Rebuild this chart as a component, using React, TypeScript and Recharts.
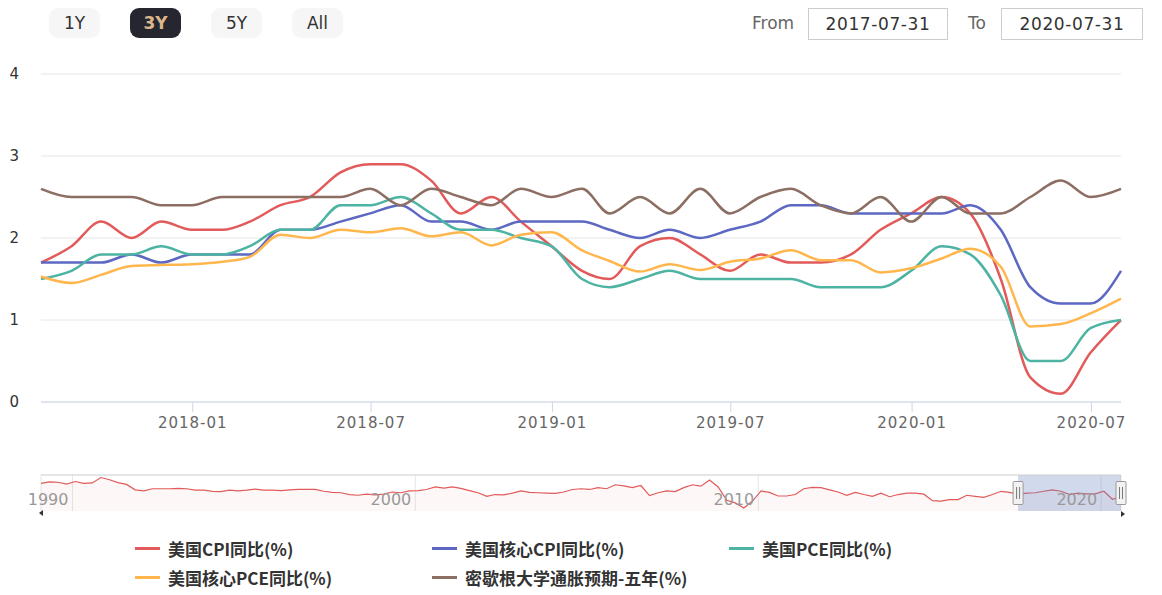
import React from 'react';
import {
  LineChart, Line, XAxis, YAxis, CartesianGrid, ComposedChart, Area,
  ReferenceArea, ReferenceLine,
} from 'recharts';

// ---------- data ----------
const months = [
  '2017-07', '2017-08', '2017-09', '2017-10', '2017-11', '2017-12',
  '2018-01', '2018-02', '2018-03', '2018-04', '2018-05', '2018-06',
  '2018-07', '2018-08', '2018-09', '2018-10', '2018-11', '2018-12',
  '2019-01', '2019-02', '2019-03', '2019-04', '2019-05', '2019-06',
  '2019-07', '2019-08', '2019-09', '2019-10', '2019-11', '2019-12',
  '2020-01', '2020-02', '2020-03', '2020-04', '2020-05', '2020-06',
  '2020-07',
];
const cpiYoY = [
  1.7, 1.9, 2.2, 2.0, 2.2, 2.1,
  2.1, 2.2, 2.4, 2.5, 2.8, 2.9,
  2.9, 2.7, 2.3, 2.5, 2.2, 1.9,
  1.6, 1.5, 1.9, 2.0, 1.8, 1.6,
  1.8, 1.7, 1.7, 1.8, 2.1, 2.3,
  2.5, 2.3, 1.5, 0.3, 0.1, 0.6,
  1.0,
];
const coreCpiYoY = [
  1.7, 1.7, 1.7, 1.8, 1.7, 1.8,
  1.8, 1.8, 2.1, 2.1, 2.2, 2.3,
  2.4, 2.2, 2.2, 2.1, 2.2, 2.2,
  2.2, 2.1, 2.0, 2.1, 2.0, 2.1,
  2.2, 2.4, 2.4, 2.3, 2.3, 2.3,
  2.3, 2.4, 2.1, 1.4, 1.2, 1.2,
  1.6,
];
const pceYoY = [
  1.5, 1.6, 1.8, 1.8, 1.9, 1.8,
  1.8, 1.9, 2.1, 2.1, 2.4, 2.4,
  2.5, 2.3, 2.1, 2.1, 2.0, 1.9,
  1.5, 1.4, 1.5, 1.6, 1.5, 1.5,
  1.5, 1.5, 1.4, 1.4, 1.4, 1.6,
  1.9, 1.8, 1.3, 0.5, 0.5, 0.9,
  1.0,
];
const corePceYoY = [
  1.53, 1.45, 1.55, 1.66, 1.67, 1.68,
  1.71, 1.77, 2.04, 2.0, 2.1, 2.07,
  2.12, 2.02, 2.07, 1.91, 2.04, 2.07,
  1.85, 1.72, 1.59, 1.68, 1.61, 1.71,
  1.75, 1.85, 1.73, 1.73, 1.58, 1.63,
  1.75, 1.87, 1.65, 0.92, 0.95, 1.08,
  1.26,
];
const michigan5Y = [
  2.6, 2.5, 2.5, 2.5, 2.4, 2.4,
  2.5, 2.5, 2.5, 2.5, 2.5, 2.6,
  2.4, 2.6, 2.5, 2.4, 2.6, 2.5,
  2.6, 2.3, 2.5, 2.3, 2.6, 2.3,
  2.5, 2.6, 2.4, 2.3, 2.5, 2.2,
  2.5, 2.3, 2.3, 2.5, 2.7, 2.5,
  2.6,
];

const seriesKeys = ['cpi', 'core', 'pce', 'corePce', 'mich'];
const seriesNames = ['美国CPI同比(%)', '美国核心CPI同比(%)', '美国PCE同比(%)', '美国核心PCE同比(%)', '密歇根大学通胀预期-五年(%)'];
const seriesColors = ['#e25a5a', '#5c68c2', '#4db3a2', '#ffb74d', '#8d6e63'];

const xTickLabels = ['2018-01', '2018-07', '2019-01', '2019-07', '2020-01', '2020-07'];
const yTicks = [0, 1, 2, 3, 4];

// navigator (US CPI YoY, quarterly from 1989-01)
const navStart = '1989-01';
const navCpi = [
  4.7, 5.1, 5.0, 4.5,
  5.2, 4.7, 4.8, 6.3,
  5.7, 4.9, 4.4, 2.9,
  2.6, 3.2, 3.2, 3.2,
  3.3, 3.2, 2.8, 2.8,
  2.5, 2.4, 2.8, 2.6,
  2.8, 3.1, 2.8, 2.8,
  2.7, 2.9, 3.0, 3.0,
  3.0, 2.5, 2.2, 2.1,
  1.6, 1.4, 1.7, 1.5,
  1.7, 2.3, 2.1, 2.6,
  2.7, 3.0, 3.7, 3.4,
  3.7, 3.3, 2.7, 2.1,
  1.1, 1.6, 1.5, 2.0,
  2.6, 2.2, 2.1, 2.0,
  1.9, 2.3, 3.0, 3.2,
  3.0, 3.5, 3.2, 4.3,
  4.0, 3.5, 4.1, 1.3,
  2.1, 2.6, 2.4, 3.5,
  4.3, 3.9, 5.6, 3.7,
  0.0, -0.7, -2.1, -0.2,
  2.6, 2.2, 1.2, 1.2,
  1.6, 3.2, 3.6, 3.5,
  2.9, 2.3, 1.4, 2.2,
  1.6, 1.1, 2.0, 1.0,
  1.6, 2.0, 2.0, 1.7,
  -0.1, -0.2, 0.2, 0.2,
  1.4, 1.1, 0.8, 1.6,
  2.5, 2.2, 1.7, 2.0,
  2.1, 2.5, 2.9, 2.5,
  1.6, 2.0, 1.8, 1.8,
  2.5, 0.3, 1.0,
];
const navTickYears = [1990, 2000, 2010, 2020];
const navDomain = [-2.95, 7];

const rangeButtons = ['1Y', '3Y', '5Y', 'All'];
const selectedButton = '3Y';
const fromDate = '2017-07-31';
const toDate = '2020-07-31';

// ---------- helpers ----------
const monthEnd = (s: string) => {
  const [y, m] = s.split('-').map(Number);
  return Date.UTC(y, m, 0);
};
const monthStart = (s: string) => {
  const [y, m] = s.split('-').map(Number);
  return Date.UTC(y, m - 1, 1);
};
const fmtMonth = (t: number) => {
  const d = new Date(t);
  return `${d.getUTCFullYear()}-${String(d.getUTCMonth() + 1).padStart(2, '0')}`;
};

const LATIN = '"DejaVu Sans", "Noto Sans", sans-serif';
const CJK = '"Noto Sans CJK SC", "Noto Sans", sans-serif';

const seriesData: Record<string, number[]> = {
  cpi: cpiYoY, core: coreCpiYoY, pce: pceYoY, corePce: corePceYoY, mich: michigan5Y,
};

const mainData = months.map((m, i) => {
  const row: any = { t: monthEnd(m) };
  seriesKeys.forEach((k) => { row[k] = seriesData[k][i]; });
  return row;
});

const navData = navCpi.map((v, i) => {
  const [y0, m0] = navStart.split('-').map(Number);
  const idx = (m0 - 1) + i * 3;
  const y = y0 + Math.floor(idx / 12);
  const m = (idx % 12) + 1;
  return { t: Date.UTC(y, m, 0), v };
});

const NavTick = (props: any) => {
  const { x, y, payload } = props;
  return (
    <text x={x - 4} y={y - 6} textAnchor="end" fill="#999" fontSize={16} fontFamily={LATIN}>
      {new Date(payload.value).getUTCFullYear()}
    </text>
  );
};

const MaskShape = (props: any) => {
  const { x, y, width, height } = props;
  const cy = y + height / 2;
  const handle = (hx: number) => (
    <g>
      <rect x={hx - 5} y={cy - 11.5} width={10} height={23} fill="#f2f2f2" stroke="#999" strokeWidth={1} rx={1} />
      <line x1={hx - 1.5} x2={hx - 1.5} y1={cy - 6} y2={cy + 6} stroke="#777" strokeWidth={1} />
      <line x1={hx + 1.5} x2={hx + 1.5} y1={cy - 6} y2={cy + 6} stroke="#777" strokeWidth={1} />
    </g>
  );
  return (
    <g>
      <rect x={x} y={y} width={width} height={height} fill="#6685c2" fillOpacity={0.3} />
      {handle(x)}
      {handle(x + width)}
    </g>
  );
};

export default function App() {
  const t0 = mainData[0].t;
  const t1 = mainData[mainData.length - 1].t;
  const xTicks = xTickLabels.map(monthStart);
  const navTicks = navTickYears.map((y) => Date.UTC(y, 0, 1));

  const btnX = [49, 130, 211, 292];

  return (
    <div style={{ position: 'absolute', left: 0, top: 0, width: 1162, height: 595, background: '#fff', overflow: 'hidden', fontFamily: LATIN }}>
      {/* range selector */}
      {rangeButtons.map((b, i) => {
        const sel = b === selectedButton;
        return (
          <div key={b} style={{
            position: 'absolute', left: btnX[i], top: 8, width: 51, height: 30, borderRadius: 9,
            background: sel ? '#262630' : '#f6f6f6', color: sel ? '#dcb68a' : '#333',
            fontSize: 17, lineHeight: '30px', textAlign: 'center', fontWeight: sel ? 'bold' : 'normal',
          }}>{b}</div>
        );
      })}
      <div style={{ position: 'absolute', left: 752, top: 8, lineHeight: '30px', fontSize: 17, color: '#666' }}>From</div>
      <div style={{ position: 'absolute', left: 808, top: 8, width: 138, height: 30, border: '1px solid #ccc', lineHeight: '30px', textAlign: 'center', fontSize: 17, color: '#333', letterSpacing: 0.6 }}>{fromDate}</div>
      <div style={{ position: 'absolute', left: 968, top: 8, lineHeight: '30px', fontSize: 17, color: '#666' }}>To</div>
      <div style={{ position: 'absolute', left: 1001, top: 8, width: 140, height: 30, border: '1px solid #ccc', lineHeight: '30px', textAlign: 'center', fontSize: 17, color: '#333', letterSpacing: 0.6 }}>{toDate}</div>

      {/* main chart */}
      <div style={{ position: 'absolute', left: 0, top: 0 }}>
        <LineChart width={1162} height={440} data={mainData} margin={{ top: 74, right: 41, bottom: 0, left: 0 }}>
          <CartesianGrid vertical={false} stroke="#e6e6e6" />
          <XAxis
            dataKey="t" type="number" domain={[t0, t1]} ticks={xTicks} tickFormatter={fmtMonth}
            height={38} tickSize={10} tickMargin={5} interval={0}
            axisLine={{ stroke: '#ccd6eb' }} tickLine={{ stroke: '#ccd6eb' }}
            tick={{ fill: '#666', fontSize: 15, fontFamily: LATIN, letterSpacing: 1 }}
          />
          <YAxis
            domain={[0, 4]} ticks={yTicks} width={41} axisLine={false} tickLine={false}
            tickSize={12} tickMargin={10} interval={0}
            tick={{ fill: '#333', fontSize: 15, fontFamily: LATIN }}
          />
          {seriesKeys.map((k, i) => (
            <Line key={k} dataKey={k} name={seriesNames[i]} type="monotone" stroke={seriesColors[i]}
              strokeWidth={2.5} dot={false} activeDot={false} isAnimationActive={false} />
          ))}
        </LineChart>
      </div>

      {/* navigator */}
      <div style={{ position: 'absolute', left: 0, top: 465 }}>
        <ComposedChart width={1162} height={55} data={navData} margin={{ top: 10, right: 41, bottom: 0, left: 41 }}>
          <CartesianGrid horizontal={false} stroke="#e6e6e6" />
          <XAxis dataKey="t" type="number" domain={['dataMin', 'dataMax']} ticks={navTicks} interval={0}
            height={9} axisLine={false} tickLine={false} tickSize={0} tickMargin={0} tick={<NavTick />} />
          <YAxis domain={navDomain} hide allowDataOverflow />
          <Area dataKey="v" type="linear" stroke={seriesColors[0]} strokeWidth={1.2} fill={seriesColors[0]}
            fillOpacity={0.05} baseValue="dataMin" dot={false} activeDot={false} isAnimationActive={false} />
          <ReferenceLine y={navDomain[1]} stroke="#cccccc" strokeWidth={1} />
          <ReferenceArea x1={t0} x2={t1} y1={navDomain[0]} y2={navDomain[1]} shape={<MaskShape />} />
        </ComposedChart>
      </div>

      {/* scrollbar arrows */}
      <svg style={{ position: 'absolute', left: 0, top: 505 }} width={1162} height={16}>
        <polygon points="43,5 43,11 39,8" fill="#333" />
        <polygon points="1121,6 1121,12 1125,9" fill="#333" />
      </svg>

      {/* legend */}
      {seriesKeys.map((k, i) => {
        const col = i < 3 ? i : i - 3;
        const row = i < 3 ? 0 : 1;
        const left = 135 + col * 297;
        const top = 548 + row * 29;
        return (
          <div key={k} style={{ position: 'absolute', left, top: top - 12, height: 24, display: 'flex', alignItems: 'center' }}>
            <div style={{ width: 25, height: 3, background: seriesColors[i], marginRight: 8 }} />
            <span style={{ fontFamily: CJK, fontWeight: 'bold', fontSize: 17, color: '#333', whiteSpace: 'nowrap' }}>{seriesNames[i]}</span>
          </div>
        );
      })}
    </div>
  );
}
